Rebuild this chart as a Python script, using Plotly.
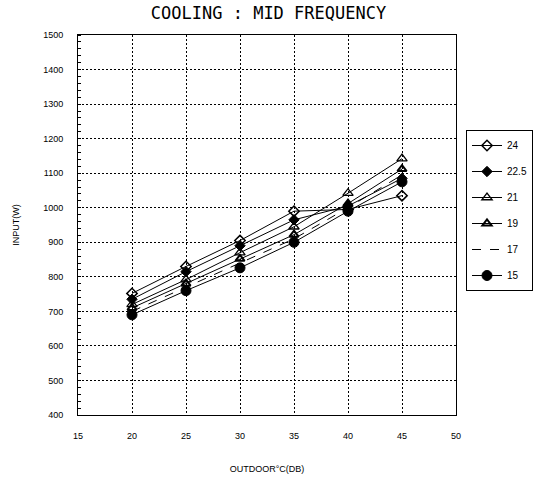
import plotly.graph_objects as go

outdoor_temp = [20, 25, 30, 35, 40, 45]
series_names = ["24", "22.5", "21", "19", "17", "15"]
s24 = [752, 830, 905, 990, 995, 1035]
s22_5 = [735, 815, 890, 965, 1005, 1085]
s21 = [720, 792, 870, 945, 1042, 1142]
s19 = [710, 780, 852, 922, 1012, 1112]
s17 = [700, 770, 838, 910, 1000, 1095]
s15 = [690, 760, 826, 900, 990, 1075]
series_values = [s24, s22_5, s21, s19, s17, s15]

x_ticks = [15, 20, 25, 30, 35, 40, 45, 50]
y_ticks = [400, 500, 600, 700, 800, 900, 1000, 1100, 1200, 1300, 1400, 1500]

styles = [
    dict(symbol="diamond-open", size=8, dash="solid", mode="lines+markers", mlw=1.5),
    dict(symbol="diamond", size=8, dash="solid", mode="lines+markers", mlw=1),
    dict(symbol="triangle-up-open", size=9, dash="solid", mode="lines+markers", mlw=1.3),
    dict(symbol="triangle-up-open", size=8, dash="solid", mode="lines+markers", mlw=2),
    dict(symbol="circle", size=1, dash="dash", mode="lines", mlw=1),
    dict(symbol="circle", size=10, dash="solid", mode="lines+markers", mlw=1),
]

fig = go.Figure()
for name, vals, st in zip(series_names, series_values, styles):
    fig.add_trace(go.Scatter(
        x=outdoor_temp, y=vals, name=name, mode=st["mode"],
        legendgroup=name,
        line=dict(color="black", width=1, dash=st["dash"]),
        marker=dict(symbol=st["symbol"], size=st["size"], color="black",
                    line=dict(color="black", width=st["mlw"])),
    ))

axis_common = dict(
    showline=True, linecolor="black", linewidth=1, mirror=True,
    showgrid=True, gridcolor="black", gridwidth=1, griddash="2px,2px",
    zeroline=False, ticks="outside", ticklen=0, automargin=False,
    tickfont=dict(family="Liberation Sans Narrow, Liberation Sans, Arial", size=9, color="black"),
)

fig.update_layout(
    width=537, height=481,
    margin=dict(l=78, r=81, t=35, b=66, autoexpand=False),
    paper_bgcolor="white", plot_bgcolor="white",
    title=dict(text="COOLING : MID FREQUENCY", x=0.5, xanchor="center", y=0.972, yanchor="middle",
               font=dict(family="DejaVu Sans Mono", size=17, color="black")),
    xaxis=dict(range=[15, 50], tickvals=x_ticks, ticklabelstandoff=12,
               title=dict(text="OUTDOOR°C(DB)", standoff=25,
                          font=dict(family="Liberation Sans Narrow, Arial", size=9, color="black")),
               **axis_common),
    yaxis=dict(range=[400, 1500], tickvals=y_ticks, ticklabelstandoff=12,
               title=dict(text="INPUT(W)", standoff=22,
                          font=dict(family="Liberation Sans Narrow, Arial", size=9, color="black")),
               minor=dict(ticks="inside", ticklen=3, tickcolor="black", dtick=20, showgrid=False),
               **axis_common),
    legend=dict(xref="container", yref="container", x=466/537, xanchor="left",
                y=1 - 130/481, yanchor="top",
                bordercolor="black", borderwidth=1, bgcolor="white",
                tracegroupgap=7, itemwidth=30,
                font=dict(family="Liberation Sans Narrow, Arial", size=10, color="black")),
    showlegend=True,
)

fig.write_html("out.html")
